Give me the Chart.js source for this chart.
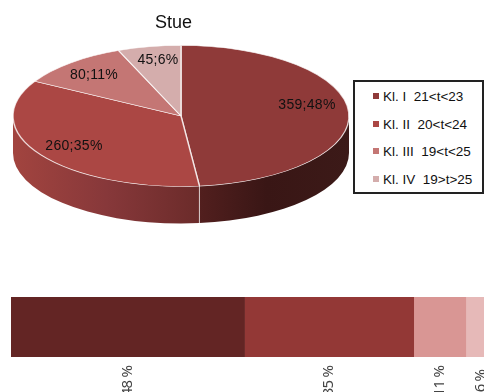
<!DOCTYPE html>
<html>
<head>
<meta charset="utf-8">
<script src="https://cdn.jsdelivr.net/npm/chart.js@4"></script>
<style>
html, body { margin: 0; padding: 0; background: #fff; width: 484px; height: 392px; overflow: hidden; }
body { position: relative; font-family: "Liberation Sans", sans-serif; }
#pie { position: absolute; left: 0; top: 0; }
#bar { position: absolute; left: 11px; top: 297px; }
#legend { position: absolute; left: 353px; top: 80px; width: 127px; height: 110px; border: 2px solid #222; background: #fff; }
#legend div { position: absolute; left: 18px; font-size: 13.5px; line-height: 16px; white-space: pre; color: #111; }
#legend i { display: inline-block; width: 6px; height: 6px; margin-right: 4px; vertical-align: 2px; }
</style>
</head>
<body>
<canvas id="pie" width="362" height="392"></canvas>
<canvas id="bar" width="484" height="95"></canvas>
<div id="legend"></div>
<script>
const titel = 'Stue';
const klasser = ['Kl. I  21<t<23', 'Kl. II  20<t<24', 'Kl. III  19<t<25', 'Kl. IV  19>t>25'];
const timer = [359, 260, 80, 45];
const pieLabels = ['359;48%', '260;35%', '80;11%', '45;6%'];
const procent = [48, 35, 11, 6];

const pieColors = ['#8f3a39', '#ab4744', '#c47674', '#d4adac'];
const barColors = ['#632524', '#933836', '#d99694', '#e6b9b8'];

// forskydning af labels fra midten af lagkagen
const labelOffset = [[126, -11], [-107, 30], [-87, -41], [-23, -56]];

// 3D look: fladtrykt lagkage med en side under
const centerY = 116;
const squash = 70.5 / 168;
const depth = 37;
const sideStops = [
    [[0, '#3c1a18'], [0.55, '#391615'], [1, '#521f1e']],
    [[0, '#6b2b2a'], [0.5, '#87383a'], [1, '#a2443f']]
];

const pie3d = {
    id: 'pie3d',
    beforeDatasetsDraw(chart) {
        const ctx = chart.ctx;
        const arcs = chart.getDatasetMeta(0).data;
        arcs.forEach((arc, i) => {
            const p = arc.getProps(['x', 'startAngle', 'endAngle', 'outerRadius']);
            const a0 = Math.max(p.startAngle, 0);
            const a1 = Math.min(p.endAngle, Math.PI);
            if (a1 <= a0) return;
            const rx = p.outerRadius;
            const ry = rx * squash;
            const x0 = p.x + Math.cos(a0) * rx;
            const x1 = p.x + Math.cos(a1) * rx;
            const grad = ctx.createLinearGradient(x0, 0, x1, 0);
            (sideStops[i] || []).forEach(s => grad.addColorStop(s[0], s[1]));
            ctx.beginPath();
            ctx.ellipse(p.x, centerY, rx, ry, 0, a0, a1);
            ctx.ellipse(p.x, centerY + depth, rx, ry, 0, a1, a0, true);
            ctx.closePath();
            ctx.fillStyle = grad;
            ctx.fill();
            // hvid streg mellem stykkerne
            if (p.startAngle > 0) {
                const y = centerY + Math.sin(a0) * ry;
                ctx.beginPath();
                ctx.moveTo(x0, y);
                ctx.lineTo(x0, y + depth);
                ctx.strokeStyle = 'rgba(255,255,255,0.7)';
                ctx.lineWidth = 1;
                ctx.stroke();
            }
        });
        const first = arcs[0];
        ctx.save();
        ctx.translate(first.x, centerY);
        ctx.scale(1, squash);
        ctx.translate(-first.x, -first.y);
    },
    afterDatasetsDraw(chart) {
        const ctx = chart.ctx;
        ctx.restore();
        const cx = chart.getDatasetMeta(0).data[0].x;
        ctx.save();
        ctx.fillStyle = '#111';
        ctx.textAlign = 'center';
        ctx.textBaseline = 'middle';
        // titlen sidder lidt til venstre for midten
        ctx.font = '18px "Liberation Sans"';
        ctx.fillText(titel, cx - 7.5, 23);
        ctx.font = '14px "Liberation Sans"';
        ctx.letterSpacing = '0.3px';
        pieLabels.forEach((t, i) => {
            ctx.fillText(t, cx + labelOffset[i][0], centerY + labelOffset[i][1]);
        });
        ctx.restore();
    }
};

new Chart(document.getElementById('pie'), {
    type: 'pie',
    plugins: [pie3d],
    data: {
        labels: klasser,
        datasets: [{
            data: timer,
            backgroundColor: pieColors,
            borderColor: 'rgba(255,255,255,0.75)',
            borderWidth: 1.5,
            radius: 168,
            clip: false
        }]
    },
    options: {
        responsive: false,
        animation: false,
        plugins: {
            legend: { display: false },
            tooltip: { enabled: false }
        }
    }
});

// Søjlens procent-tekster, roteret
const barText = {
    id: 'barText',
    afterDatasetsDraw(chart) {
        const ctx = chart.ctx;
        ctx.save();
        ctx.font = '15px "Noto Sans"';
        ctx.letterSpacing = '-0.8px';
        ctx.fillStyle = '#444';
        ctx.textAlign = 'center';
        ctx.textBaseline = 'middle';
        chart.data.datasets.forEach((ds, i) => {
            const bar = chart.getDatasetMeta(i).data[0];
            const p = bar.getProps(['x', 'base']);
            ctx.save();
            ctx.translate((p.x + p.base) / 2, 84);
            ctx.rotate(-Math.PI / 2);
            ctx.fillText(procent[i] + ' %', 0, 0);
            ctx.restore();
        });
        ctx.restore();
    }
};

new Chart(document.getElementById('bar'), {
    type: 'bar',
    plugins: [barText],
    data: {
        labels: [titel],
        datasets: timer.map((v, i) => ({
            label: klasser[i],
            data: [v],
            backgroundColor: barColors[i],
            barPercentage: 1,
            categoryPercentage: 1
        }))
    },
    options: {
        indexAxis: 'y',
        responsive: false,
        animation: false,
        layout: { padding: { bottom: 35 } },
        scales: {
            x: { stacked: true, display: false, min: 0, max: timer.reduce((a, b) => a + b, 0) },
            y: { stacked: true, display: false }
        },
        plugins: { legend: { display: false }, tooltip: { enabled: false } }
    }
});

// Legend
const legendEl = document.getElementById('legend');
klasser.forEach((k, i) => {
    const row = document.createElement('div');
    row.style.top = (7 + i * 27.7) + 'px';
    const box = document.createElement('i');
    box.style.background = pieColors[i];
    row.appendChild(box);
    row.appendChild(document.createTextNode(k));
    legendEl.appendChild(row);
});
</script>
</body>
</html>
